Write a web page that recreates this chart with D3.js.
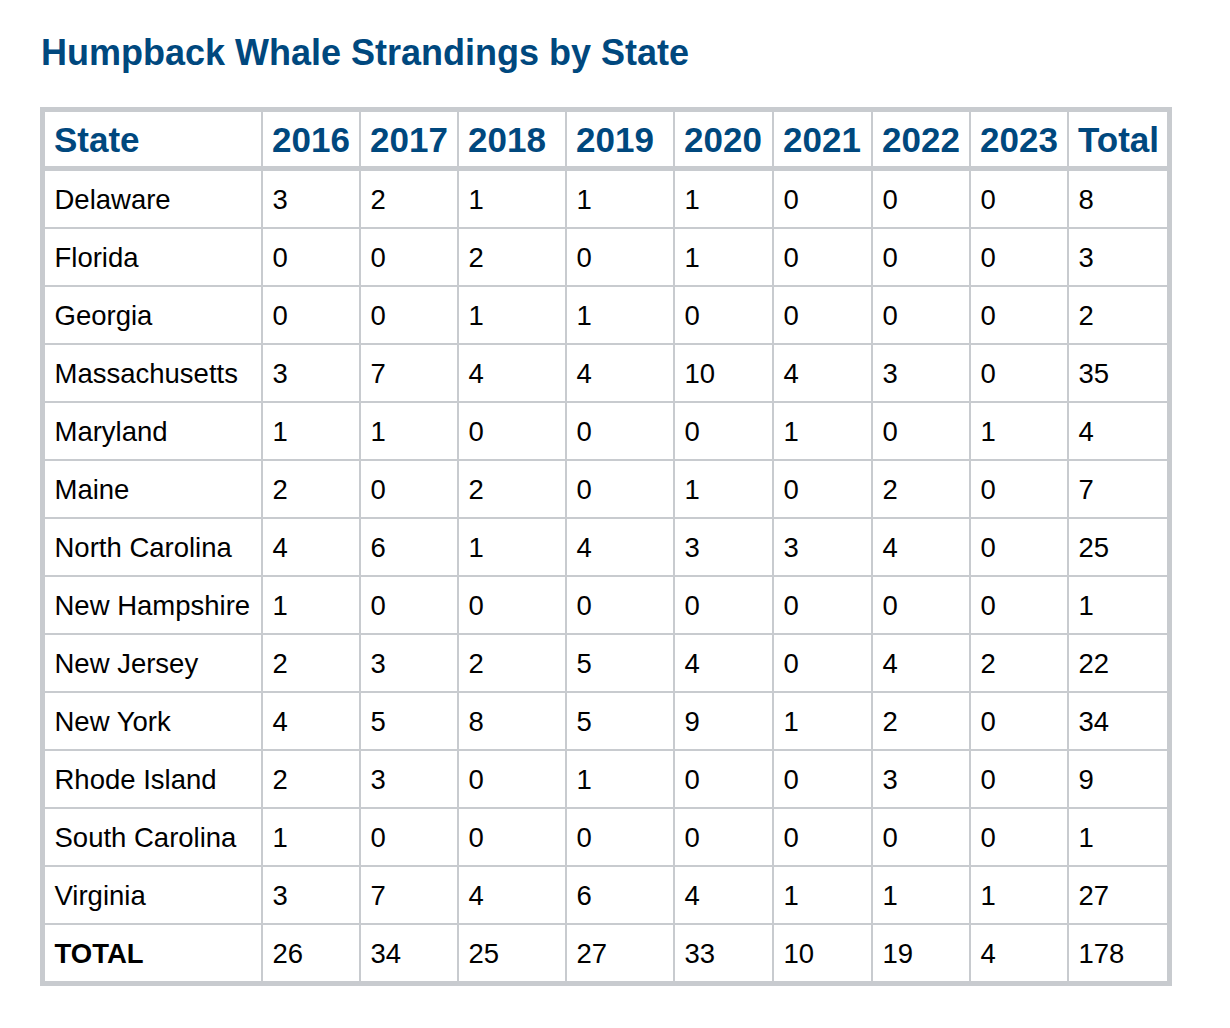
<!DOCTYPE html>
<html>
<head>
<meta charset="utf-8">
<script src="https://cdn.jsdelivr.net/npm/d3@7"></script>
<style>
  body { margin: 0; background: #fff; }
  svg text { font-family: "Liberation Sans", Arial, Helvetica, sans-serif; }
</style>
</head>
<body>
<div id="table"></div>
<script>
// ----------------------------
// Data
// ----------------------------
const title = "Humpback Whale Strandings by State";
const states = ["Delaware", "Florida", "Georgia", "Massachusetts", "Maryland", "Maine",
    "North Carolina", "New Hampshire", "New Jersey", "New York", "Rhode Island",
    "South Carolina", "Virginia"];
const years = ["2016", "2017", "2018", "2019", "2020", "2021", "2022", "2023"];

const counts2016 = [3, 0, 0, 3, 1, 2, 4, 1, 2, 4, 2, 1, 3];
const counts2017 = [2, 0, 0, 7, 1, 0, 6, 0, 3, 5, 3, 0, 7];
const counts2018 = [1, 2, 1, 4, 0, 2, 1, 0, 2, 8, 0, 0, 4];
const counts2019 = [1, 0, 1, 4, 0, 0, 4, 0, 5, 5, 1, 0, 6];
const counts2020 = [1, 1, 0, 10, 0, 1, 3, 0, 4, 9, 0, 0, 4];
const counts2021 = [0, 0, 0, 4, 1, 0, 3, 0, 0, 1, 0, 0, 1];
const counts2022 = [0, 0, 0, 3, 0, 2, 4, 0, 4, 2, 3, 0, 1];
const counts2023 = [0, 0, 0, 0, 1, 0, 0, 0, 2, 0, 0, 0, 1];
const stateTotals = [8, 3, 2, 35, 4, 7, 25, 1, 22, 34, 9, 1, 27];
const yearTotals = [26, 34, 25, 27, 33, 10, 19, 4];
const grandTotal = 178;

const yearCounts = [counts2016, counts2017, counts2018, counts2019,
    counts2020, counts2021, counts2022, counts2023];

// Build the table rows from the arrays
const headerRow = ["State", ...years, "Total"];
const bodyRows = states.map((s, i) => [s, ...yearCounts.map(c => c[i]), stateTotals[i]]);
bodyRows.push(["TOTAL", ...yearTotals, grandTotal]);
const rowKeys = [...states, "TOTAL"];

// ----------------------------
// Layout
// ----------------------------
const width = 1230;
const height = 1028;
const tableLeft = 40, tableTop = 107;
const border = 5, gridLine = 2, headerLine = 5;
const headerHeight = 54;
const colWidths = [216, 96, 96, 106, 106, 97, 97, 96, 96, 98];
const padLeft = 10;
const blue = "#00487e";
const gray = "#c8cbcf";

const colLeft = [];
colWidths.reduce((x, w) => { colLeft.push(x); return x + w + gridLine; }, tableLeft + border);
const tableWidth = d3.sum(colWidths) + gridLine * (colWidths.length - 1) + border * 2;

const bodyTop = tableTop + border + headerHeight + headerLine;
const rowStep = 58;
const y = d3.scaleBand()
    .domain(rowKeys)
    .range([bodyTop, bodyTop + rowStep * rowKeys.length - gridLine])
    .paddingInner(gridLine / rowStep);
const tableHeight = (y.range()[1] - tableTop) + border;

// ----------------------------
// Drawing
// ----------------------------
const svg = d3.create("svg")
    .attr("width", width)
    .attr("height", height)
    .attr("viewBox", [0, 0, width, height]);

// Title
svg.append("text")
    .attr("x", 41)
    .attr("y", 65)
    .attr("fill", blue)
    .style("font-size", "36px")
    .style("font-weight", "bold")
    .text(title);

// Gray background acts as borders and grid lines
svg.append("rect")
    .attr("x", tableLeft)
    .attr("y", tableTop)
    .attr("width", tableWidth)
    .attr("height", tableHeight)
    .attr("fill", gray);

// Header cells
const headerTop = tableTop + border;
const header = svg.append("g")
    .selectAll("g")
    .data(headerRow)
    .join("g");

header.append("rect")
    .attr("x", (d, i) => colLeft[i])
    .attr("y", headerTop)
    .attr("width", (d, i) => colWidths[i])
    .attr("height", headerHeight)
    .attr("fill", "#fff");

header.append("text")
    .attr("x", (d, i) => colLeft[i] + padLeft - 1)
    .attr("y", headerTop + headerHeight / 2 + 12.5)
    .attr("fill", blue)
    .style("font-size", "35px")
    .style("font-weight", "bold")
    .text(d => d);

// Body cells
const rows = svg.append("g")
    .selectAll("g")
    .data(bodyRows)
    .join("g")
    .attr("transform", (d, i) => `translate(0,${y(rowKeys[i])})`);

const cells = rows.selectAll("g")
    .data((d, ri) => d.map((v, ci) => ({ v, ci, ri })))
    .join("g");

cells.append("rect")
    .attr("x", d => colLeft[d.ci])
    .attr("y", 0)
    .attr("width", d => colWidths[d.ci])
    .attr("height", y.bandwidth())
    .attr("fill", "#fff");

cells.append("text")
    .attr("x", d => colLeft[d.ci] + padLeft - 0.5)
    .attr("y", y.bandwidth() / 2 + 9.8)
    .attr("fill", "#000")
    .style("font-size", "27.5px")
    .style("font-weight", d => (d.ri === bodyRows.length - 1 && d.ci === 0) ? "bold" : "normal")
    .text(d => d.v);

document.getElementById('table').appendChild(svg.node());
</script>
</body>
</html>
